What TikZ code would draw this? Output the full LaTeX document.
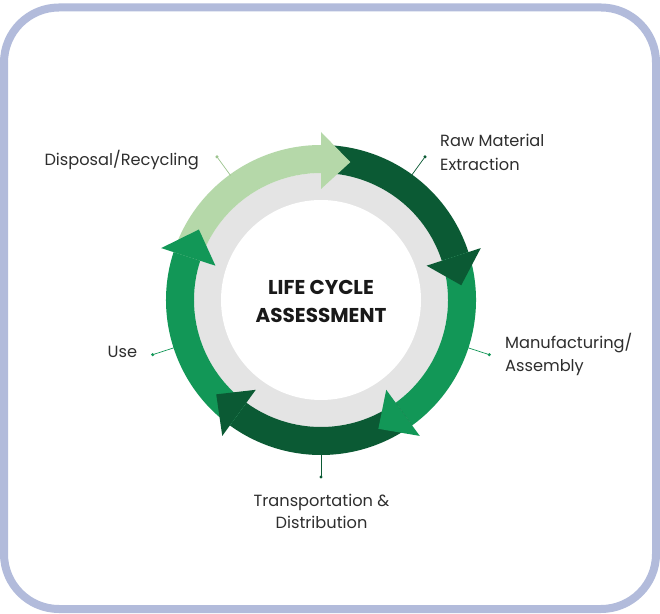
\documentclass[tikz,border=0pt]{standalone}
\usepackage{fontspec}
\setmainfont{Poppins}
\definecolor{frame}{HTML}{B2BBDB}
\definecolor{lgreen}{HTML}{B5D8A9}
\definecolor{dgreen}{HTML}{0B5A34}
\definecolor{mgreen}{HTML}{129757}
\definecolor{ringgray}{HTML}{E4E4E4}
\definecolor{txt}{HTML}{2E2E2E}
\definecolor{lline}{HTML}{9DC48F}
\tikzset{
  lbl/.style={inner sep=0pt, text=txt, font=\fontsize{16.2}{19}\selectfont},
  ctr/.style={inner sep=0pt, text=black!90, font=\fontsize{20}{24}\selectfont\bfseries},
  leader/.style={line width=0.7pt},
}
\newcommand{\ringbody}[3]{%
  \fill[#1] (#2:155pt) arc[start angle=#2, end angle=#3, radius=155pt]
    -- (#3:127pt) arc[start angle=#3, end angle=#2, radius=127pt] -- cycle;}
\newcommand{\ringhead}[2]{%
  \fill[#1] (#2:111pt) -- (#2:168pt) -- ({#2-12}:141pt) -- cycle;}
\begin{document}
\begin{tikzpicture}[x=1pt,y=1pt]
\useasboundingbox (0,0) rectangle (660,613);
\fill[white] (0,0) rectangle (660,613);
\draw[frame, line width=8pt, rounded corners=55pt] (4,4) rectangle (656,605.5);
\begin{scope}[shift={(321,313)}]
  \fill[ringgray] (0,0) circle (127pt);
  \fill[white] (0,0) circle (100pt);
  \ringbody{lgreen}{162}{90}
  \ringbody{dgreen}{90}{18}
  \ringbody{mgreen}{18}{-54}
  \ringbody{dgreen}{-54}{-126}
  \ringbody{mgreen}{-126}{-198}
  \ringhead{lgreen}{90}
  \ringhead{dgreen}{18}
  \ringhead{mgreen}{-54}
  \ringhead{dgreen}{-126}
  \ringhead{mgreen}{162}
  % leaders
  \coordinate (rawA) at (54:154pt);  \coordinate (rawB) at (54:177pt);
  \coordinate (manA) at (-18:154pt); \coordinate (manB) at (-18:177pt);
  \coordinate (traA) at (-90:154pt); \coordinate (traB) at (-90:177pt);
  \coordinate (useA) at (198:154pt); \coordinate (useB) at (198:177pt);
  \coordinate (disA) at (126:154pt); \coordinate (disB) at (126:177pt);
  \draw[leader, dgreen] (rawA) -- (rawB); \fill[dgreen] (rawB) circle (1.7pt);
  \draw[leader, mgreen] (manA) -- (manB); \fill[mgreen] (manB) circle (1.7pt);
  \draw[leader, dgreen] (traA) -- (traB); \fill[dgreen] (traB) circle (1.7pt);
  \draw[leader, mgreen] (useA) -- (useB); \fill[mgreen] (useB) circle (1.7pt);
  \draw[leader, lline] (disA) -- (disB); \fill[lline] (disB) circle (1.7pt);
  % centre
  \node[ctr, anchor=base] (c1) at (0,5) {LIFE CYCLE};
  \node[ctr, anchor=base] (c2) at (0,-22.3) {ASSESSMENT};
\end{scope}
\node[lbl, anchor=base west] (raw1) at (440,466.3) {Raw Material};
\node[lbl, anchor=base west] (raw2) at (440,442.3) {Extraction};
\node[lbl, anchor=base west] (man1) at (505,264.7) {Manufacturing/};
\node[lbl, anchor=base west] (man2) at (505,241.3) {Assembly};
\node[lbl, anchor=base] (tra1) at (321.5,107) {Transportation \&};
\node[lbl, anchor=base] (tra2) at (321.5,84.7) {Distribution};
\node[lbl, anchor=base east] (use) at (137.3,255.3) {Use};
\node[lbl, anchor=base west] (dis) at (44.3,447.5) {Disposal/Recycling};
\end{tikzpicture}
\end{document}
